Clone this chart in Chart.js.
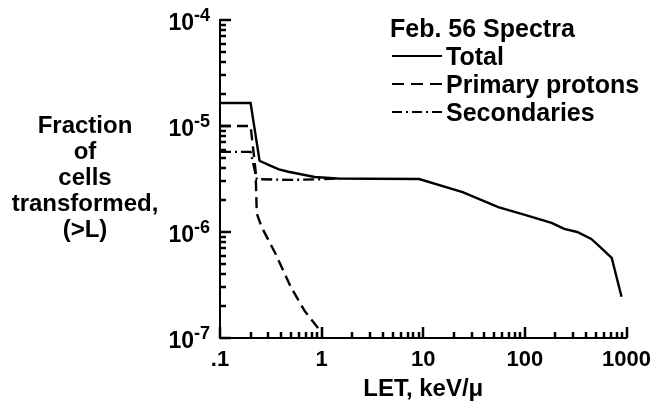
<!DOCTYPE html>
<html><head><meta charset="utf-8">
<script src="https://cdn.jsdelivr.net/npm/chart.js@4/dist/chart.umd.min.js"></script>
<style>html,body{margin:0;padding:0;background:#fff}#wrap{width:660px;height:405px}</style>
</head><body><div id="wrap"><canvas id="c" width="660" height="405"></canvas></div>
<script>
// ---- data ----
const totalLET  = [0.1, 0.2, 0.245, 0.3, 0.38, 0.47, 0.855, 1.43, 3, 9.1, 24.4, 54.7, 100, 183, 244, 327, 450, 562, 715, 893];
const totalFrac = [1.65e-5, 1.65e-5, 4.7e-6, 4.3e-6, 3.9e-6, 3.7e-6, 3.3e-6, 3.2e-6, 3.18e-6, 3.16e-6, 2.38e-6, 1.72e-6, 1.45e-6, 1.22e-6, 1.07e-6, 1.0e-6, 8.6e-7, 7.1e-7, 5.7e-7, 2.45e-7];
const primaryLET  = [0.1, 0.2, 0.224, 0.23, 0.256, 0.35, 0.5, 0.68, 0.91, 0.96];
const primaryFrac = [1.0e-5, 1.0e-5, 3.8e-6, 1.5e-6, 1.12e-6, 6.3e-7, 3.0e-7, 1.8e-7, 1.26e-7, 1.12e-7];
const secLET  = [0.1, 0.2, 0.23, 0.5, 1.0, 1.5];
const secFrac = [5.7e-6, 5.7e-6, 3.15e-6, 3.1e-6, 3.15e-6, 3.2e-6];

const seriesNames = ['Total', 'Primary protons', 'Secondaries'];
const legendTitle = 'Feb. 56 Spectra';
const xTickLabels = ['.1', '1', '10', '100', '1000'];
const xDecades = [-1, 0, 1, 2, 3];
const yTickBase = '10';
const yTickExponents = ['-7', '-6', '-5', '-4'];
const yDecades = [-7, -6, -5, -4];
const yTitleLines = ['Fraction', 'of', 'cells', 'transformed,', '(>L)'];
const xTitle = 'LET, keV/\u03bc';

const FONT = '"Liberation Sans", Arial, Helvetica, sans-serif';
const pts = (xs, ys) => xs.map((v, i) => ({x: v, y: ys[i]}));
function tickValues(decs) {
  const out = [];
  for (let k = 0; k < decs.length; k++) {
    const d = decs[k];
    if (k === decs.length - 1) { out.push(Math.pow(10, d)); break; }
    for (let m = 1; m <= 9; m++) out.push(m * Math.pow(10, d));
  }
  return out;
}
const xTickValues = tickValues(xDecades);
const yTickValues = tickValues(yDecades);
function isMajor(v) { const l = Math.log10(v); return Math.abs(l - Math.round(l)) < 1e-6; }

const decor = {
  id: 'decor',
  afterDraw(chart) {
    const ctx = chart.ctx;
    const area = chart.chartArea;
    const xs = chart.scales.x, ys = chart.scales.y;
    ctx.save();
    ctx.strokeStyle = '#000'; ctx.fillStyle = '#000'; ctx.lineWidth = 2.5; ctx.setLineDash([]);
    // tick marks, pointing into the plot
    xTickValues.forEach(v => {
      const px = Math.round(xs.getPixelForValue(v));
      const len = isMajor(v) ? 11 : 6;
      ctx.beginPath(); ctx.moveTo(px, area.bottom); ctx.lineTo(px, area.bottom - len); ctx.stroke();
    });
    yTickValues.forEach(v => {
      const py = Math.round(ys.getPixelForValue(v));
      const len = isMajor(v) ? 11 : 6;
      ctx.beginPath(); ctx.moveTo(area.left, py); ctx.lineTo(area.left + len, py); ctx.stroke();
    });
    // y tick labels with superscript exponents
    ctx.textBaseline = 'alphabetic';
    ctx.textAlign = 'left';
    yDecades.forEach((d, i) => {
      const py = ys.getPixelForValue(Math.pow(10, d));
      const exp = yTickExponents[i];
      ctx.font = 'bold 18px ' + FONT;
      const we = ctx.measureText(exp).width;
      ctx.font = 'bold 23px ' + FONT;
      const wb = ctx.measureText(yTickBase).width;
      const xr = 210;
      ctx.fillText(yTickBase, xr - we - wb, py + 10);
      ctx.font = 'bold 18px ' + FONT;
      ctx.fillText(exp, xr - we, py + 1);
    });
    // horizontal multi-line y title
    ctx.font = 'bold 24px ' + FONT;
    ctx.textAlign = 'center';
    yTitleLines.forEach((s, i) => ctx.fillText(s, 85, 133 + i * 26));
    // legend
    ctx.textAlign = 'left';
    ctx.font = 'bold 25px ' + FONT;
    ctx.fillText(legendTitle, 390, 37);
    chart.data.datasets.forEach((ds, i) => {
      const base = 65 + i * 28;
      ctx.save();
      ctx.lineWidth = 2;
      ctx.setLineDash(ds.legendDash || []);
      ctx.beginPath(); ctx.moveTo(392, base - 9); ctx.lineTo(442, base - 9); ctx.stroke();
      ctx.restore();
      ctx.fillText(ds.label, 446, base);
    });
    ctx.restore();
  }
};

new Chart(document.getElementById('c'), {
  type: 'line',
  data: {
    datasets: [
      {label: seriesNames[0], data: pts(totalLET, totalFrac), borderColor: '#000', borderWidth: 2.4, pointRadius: 0, tension: 0, fill: false},
      {label: seriesNames[1], data: pts(primaryLET, primaryFrac), borderColor: '#000', borderWidth: 2.4, borderDash: [11, 6], legendDash: [12, 7], pointRadius: 0, tension: 0, fill: false},
      {label: seriesNames[2], data: pts(secLET, secFrac), borderColor: '#000', borderWidth: 2.4, borderDash: [11, 4, 2, 4], legendDash: [10, 4, 2, 4], pointRadius: 0, tension: 0, fill: false}
    ]
  },
  options: {
    responsive: false, animation: false, devicePixelRatio: 1,
    layout: {padding: {left: 0, right: 28, top: 20, bottom: 0}},
    plugins: {legend: {display: false}, tooltip: {enabled: false}},
    scales: {
      x: {
        type: 'logarithmic', position: 'bottom', min: 0.1, max: 1000,
        grid: {display: false, drawTicks: false},
        border: {display: true, width: 2, color: '#000'},
        afterBuildTicks: s => { s.ticks = xTickValues.map(v => ({value: v, major: isMajor(v)})); },
        ticks: {
          autoSkip: false, maxRotation: 0, minRotation: 0, padding: 9, color: '#000',
          font: {family: FONT, size: 22, weight: 'bold'},
          callback: v => { if (!isMajor(v)) return ''; const i = xDecades.indexOf(Math.round(Math.log10(v))); return xTickLabels[i]; }
        },
        title: {display: true, text: xTitle, color: '#000', font: {family: FONT, size: 24, weight: 'bold'}, padding: {top: 0, bottom: 1}},
        afterFit: s => { s.height = 67; }
      },
      y: {
        type: 'logarithmic', position: 'left', min: 1e-7, max: 1e-4,
        grid: {display: false, drawTicks: false},
        border: {display: true, width: 2, color: '#000'},
        ticks: {display: false},
        afterFit: s => { s.width = 220; }
      }
    }
  },
  plugins: [decor]
});
</script>
</body></html>
